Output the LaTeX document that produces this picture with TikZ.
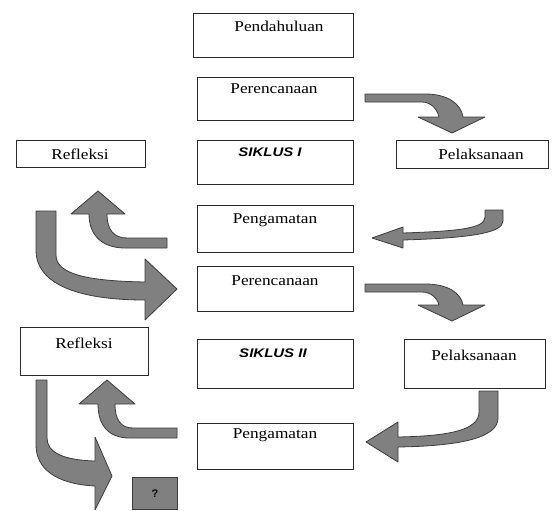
\documentclass[tikz,border=0pt]{standalone}
\usepackage{fontspec}
\usepackage{graphicx}
\setmainfont{Liberation Serif}
\newfontfamily\sikfont{Liberation Sans}
\definecolor{arrgray}{HTML}{808080}
\definecolor{arredge}{HTML}{3C3C3C}
\definecolor{boxedge}{HTML}{2A2A2A}
\begin{document}
\begin{tikzpicture}[x=1pt,y=-1pt,
  box/.style={draw=boxedge, line width=0.9pt, fill=white, inner sep=0pt, anchor=north west},
  lbl/.style={font=\fontsize{15}{17}\selectfont, inner sep=0pt},
  sik/.style={font=\sikfont\bfseries\itshape\fontsize{12.5}{14}\selectfont, inner sep=0pt},
  arr/.style={fill=arrgray, draw=arredge, line width=0.8pt, line join=round}]
\useasboundingbox (0,0) rectangle (554,511);

% boxes
\node[box, minimum width=160pt, minimum height=44pt] (pend) at (193,13) {};
\node[box, minimum width=156pt, minimum height=43pt] (per1) at (197,77) {};
\node[box, minimum width=129pt, minimum height=27pt] (ref1) at (16,140) {};
\node[box, minimum width=156pt, minimum height=44pt] (sik1) at (197,140) {};
\node[box, minimum width=152pt, minimum height=28pt] (pel1) at (396,140) {};
\node[box, minimum width=156pt, minimum height=47pt] (pen1) at (197,205) {};
\node[box, minimum width=156pt, minimum height=45pt] (per2) at (197,266) {};
\node[box, minimum width=128pt, minimum height=48pt] (ref2) at (20,327) {};
\node[box, minimum width=156pt, minimum height=49pt] (sik2) at (197,339) {};
\node[box, minimum width=141pt, minimum height=49pt] (pel2) at (404,339) {};
\node[box, minimum width=156pt, minimum height=46pt] (pen2) at (197,423) {};
\node[box, fill=arrgray, draw=arredge, minimum width=45pt, minimum height=32pt] (q) at (132,477) {};

% labels
\node[lbl] (tpend) at (279,26) {\scalebox{1.15}[1]{Pendahuluan}};
\node[lbl] (tper1) at (274,89) {\scalebox{1.15}[1]{Perencanaan}};
\node[lbl] (tref1) at (80,154) {\scalebox{1.15}[1]{Refleksi}};
\node[sik] (tsik1) at (270,152) {\scalebox{1.2}[1]{SIKLUS I}};
\node[lbl] (tpel1) at (481,154) {\scalebox{1.15}[1]{Pelaksanaan}};
\node[lbl] (tpen1) at (275,220) {\scalebox{1.15}[1]{Pengamatan}};
\node[lbl] (tper2) at (275,281) {\scalebox{1.15}[1]{Perencanaan}};
\node[lbl] (tref2) at (84,343) {\scalebox{1.15}[1]{Refleksi}};
\node[sik] (tsik2) at (273,353) {\scalebox{1.2}[1]{SIKLUS II}};
\node[lbl] (tpel2) at (474,355) {\scalebox{1.15}[1]{Pelaksanaan}};
\node[lbl] (tpen2) at (275,435) {\scalebox{1.15}[1]{Pengamatan}};
\node[font=\sikfont\bfseries\fontsize{11}{12}\selectfont, inner sep=0pt] (tq) at (q.center) {?};

% arrow 1: Perencanaan -> Pelaksanaan (cycle I)
\path[arr] (365,94) -- (425,94) .. controls (448,94) and (461,104) .. (463,117)
  -- (485,117) -- (452,133) -- (418,117) -- (439,117)
  .. controls (437,108) and (430,102) .. (422,102) -- (365,102) -- cycle;
% arrow 2: Perencanaan -> Pelaksanaan (cycle II)
\path[arr] (365,284) -- (425,284) .. controls (448,284) and (461,293) .. (463,305)
  -- (485,305) -- (452,321) -- (418,305) -- (439,305)
  .. controls (437,297) and (430,292) .. (422,292) -- (365,292) -- cycle;
% arrow 3: Pelaksanaan -> Pengamatan (cycle I)
\path[arr] (485,210) -- (503,210) -- (503,221)
  .. controls (503,233) and (470,238) .. (403,240)
  -- (403,248) -- (372,238) -- (403,227) -- (403,233)
  .. controls (462,231) and (485,228) .. (485,217) -- cycle;
% arrow 4: Pelaksanaan -> Pengamatan (cycle II)
\path[arr] (479,391) -- (498,391) -- (498,418)
  .. controls (498,438) and (460,446) .. (398,447)
  -- (398,462) -- (366,442) -- (398,422) -- (398,437)
  .. controls (450,436) and (479,430) .. (479,412) -- cycle;
% arrow 5: Pengamatan -> Refleksi (cycle I)
\path[arr] (167,238) -- (167,248) -- (125,248)
  .. controls (103,248) and (89,236) .. (89,214)
  -- (71,214) -- (98,191) -- (125,214) -- (107,214)
  .. controls (107,230) and (114,238) .. (127,238) -- cycle;
% arrow 6: Refleksi -> Perencanaan (cycle II)
\path[arr] (36,211) -- (56,211) -- (56,255)
  .. controls (56,275) and (90,281) .. (145,282)
  -- (145,259) -- (177,289) -- (145,320) -- (145,300)
  .. controls (80,300) and (36,285) .. (36,250) -- cycle;
% arrow 7: Refleksi -> ?
\path[arr] (36,380) -- (47,380) -- (47,438)
  .. controls (47,452) and (62,460) .. (95,461)
  -- (95,437) -- (112,476) -- (95,510) -- (95,486)
  .. controls (55,484) and (36,468) .. (36,445) -- cycle;
% arrow 8: Pengamatan -> Refleksi (cycle II)
\path[arr] (177,428) -- (177,438) -- (130,438)
  .. controls (108,438) and (98,425) .. (98,404)
  -- (79,404) -- (107,380) -- (135,404) -- (115,404)
  .. controls (115,420) and (121,428) .. (133,428) -- cycle;
\end{tikzpicture}
\end{document}
